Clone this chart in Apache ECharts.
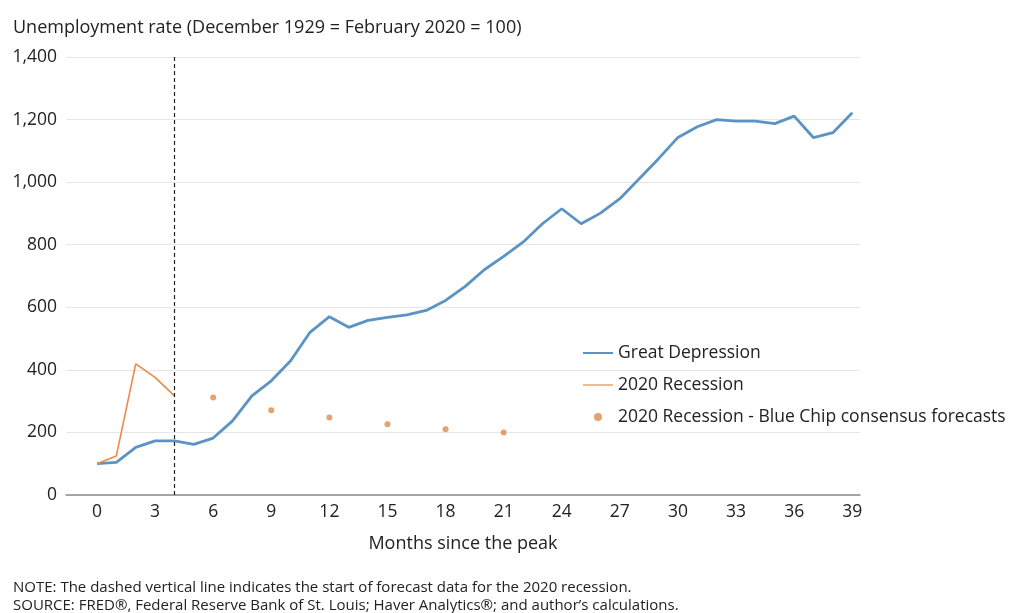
<!DOCTYPE html>
<html>
<head>
<meta charset="utf-8">
<script src="https://cdn.jsdelivr.net/npm/echarts@6/dist/echarts.min.js"></script>
<style>html,body{margin:0;padding:0;background:#fff;}#c{width:1016px;height:613px;}</style>
</head>
<body>
<div id="c"></div>
<script>
var months = [];
for (var i = 0; i <= 39; i++) months.push(i);
var greatDepression = [100,104,152,173,173,162,182,237,317,365,429,520,570,536,558,568,576,590,622,666,720,763,808,867,915,867,901,947,1011,1075,1143,1177,1200,1195,1195,1187,1211,1142,1158,1222];
var recessionMonths = [0,1,2,3,4];
var recession2020 = [100,125,419,376,317];
var forecastMonths = [6,9,12,15,18,21];
var forecastValues = [312,271,248,226,210,200];
var xTicks = [0,3,6,9,12,15,18,21,24,27,30,33,36,39];
var forecastStart = 4;

var FONT = 'Open Sans';
var chart = echarts.init(document.getElementById('c'));
chart.setOption({
  animation: false,
  backgroundColor: '#fff',
  textStyle: {fontFamily: FONT},
  title: [
    {text: 'Unemployment rate (December 1929 = February 2020 = 100)', left: 8, top: 14,
     textStyle: {fontFamily: FONT, fontSize: 18, fontWeight: 'normal', color: '#222'}},
    {text: 'NOTE: The dashed vertical line indicates the start of forecast data for the 2020 recession.\nSOURCE: FRED®, Federal Reserve Bank of St. Louis; Haver Analytics®; and author\u2019s calculations.',
     left: 8, top: 574,
     textStyle: {fontFamily: FONT, fontSize: 15, fontWeight: 'normal', color: '#222', lineHeight: 18}}
  ],
  legend: {
    orient: 'vertical', left: 578, top: 338, itemGap: 12, itemWidth: 30, itemHeight: 8,
    textStyle: {fontFamily: FONT, fontSize: 17.5, color: '#222', lineHeight: 20},
    data: [
      {name: 'Great Depression', icon: 'path://M0,4 L30,4 L30,6 L0,6 Z'},
      {name: '2020 Recession', icon: 'path://M0,4.4 L30,4.4 L30,5.6 L0,5.6 Z'},
      {name: '2020 Recession - Blue Chip consensus forecasts', icon: 'circle'}
    ]
  },
  grid: {left: 66, right: 156, top: 57, bottom: 118, containLabel: false},
  xAxis: {
    type: 'value', min: -1.6, max: 39.4,
    name: 'Months since the peak', nameLocation: 'middle', nameGap: 40,
    nameTextStyle: {fontFamily: FONT, fontSize: 18, color: '#222'},
    axisLine: {show: true, lineStyle: {color: '#8c8c8c', width: 1.5}},
    axisTick: {show: false},
    splitLine: {show: false},
    axisLabel: {customValues: xTicks, fontFamily: FONT, fontSize: 17.5, color: '#222', margin: 8}
  },
  yAxis: {
    type: 'value', min: 0, max: 1400, interval: 200,
    axisLine: {show: false}, axisTick: {show: false},
    splitLine: {lineStyle: {color: '#e6e6e6', width: 1}},
    axisLabel: {fontFamily: FONT, fontSize: 17.5, color: '#222', margin: 9,
      formatter: function (v) { return v.toLocaleString('en-US'); }}
  },
  series: [
    {name: 'Great Depression', type: 'line', symbol: 'none',
     data: months.map(function (m, i) { return [m, greatDepression[i]]; }),
     lineStyle: {color: '#5a93c4', width: 2.8}, itemStyle: {color: '#5a93c4'}, z: 3},
    {name: '2020 Recession', type: 'line', symbol: 'none',
     data: recessionMonths.map(function (m, i) { return [m, recession2020[i]]; }),
     lineStyle: {color: '#e88b47', width: 1.6}, itemStyle: {color: '#e88b47'}, z: 4,
     markLine: {silent: true, symbol: 'none', label: {show: false},
       lineStyle: {color: '#222', type: [4, 3], width: 1.2},
       data: [{xAxis: forecastStart}]}},
    {name: '2020 Recession - Blue Chip consensus forecasts', type: 'scatter', symbolSize: 6,
     data: forecastMonths.map(function (m, i) { return [m, forecastValues[i]]; }),
     itemStyle: {color: '#e08a4c'}, z: 4}
  ]
});
</script>
</body>
</html>
